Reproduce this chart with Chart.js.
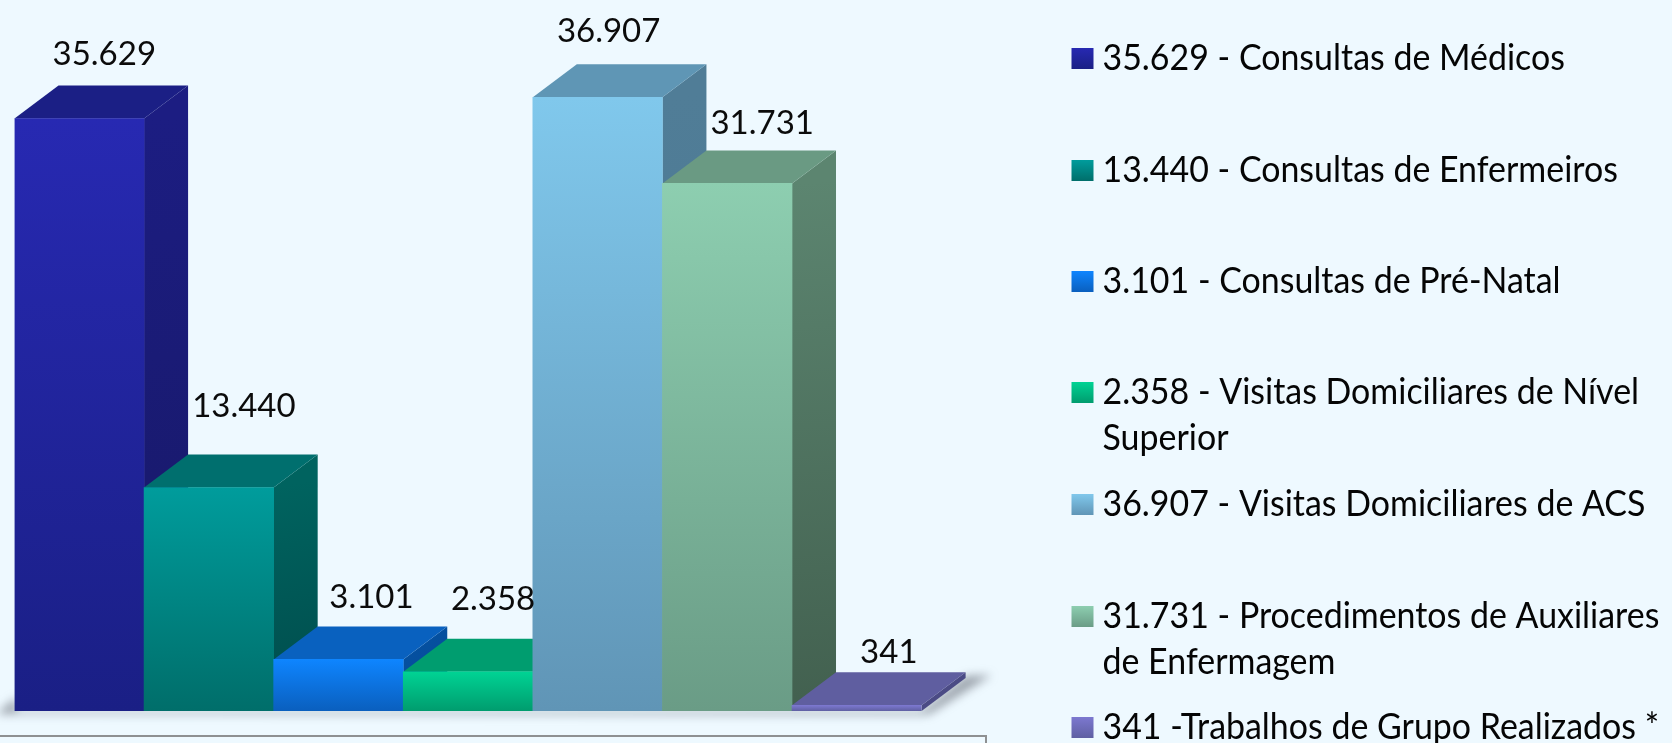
<!DOCTYPE html>
<html lang="pt">
<head>
<meta charset="utf-8">
<title>Produção</title>
<script src="https://cdn.jsdelivr.net/npm/chart.js@4/dist/chart.umd.min.js"></script>
<style>
html,body{margin:0;padding:0;background:#EEF9FF;overflow:hidden}
canvas{display:block}
</style>
</head>
<body>
<canvas id="c" width="1672" height="743"></canvas>
<script>
const categories = ["Consultas de Médicos","Consultas de Enfermeiros","Consultas de Pré-Natal","Visitas Domiciliares de Nível Superior","Visitas Domiciliares de ACS","Procedimentos de Auxiliares de Enfermagem","Trabalhos de Grupo Realizados"];
const values = [35629,13440,3101,2358,36907,31731,341];
const valueLabels = ["35.629","13.440","3.101","2.358","36.907","31.731","341"];
const legendLines = [
  ["35.629 - Consultas de Médicos"],
  ["13.440 - Consultas de Enfermeiros"],
  ["3.101 - Consultas de Pré-Natal"],
  ["2.358 - Visitas Domiciliares de Nível","Superior"],
  ["36.907 - Visitas Domiciliares de ACS"],
  ["31.731 - Procedimentos de Auxiliares","de Enfermagem"],
  ["341 -Trabalhos de Grupo Realizados *"]
];
const frontTop = ["#2729B2","#009C9C","#0E85FF","#00D394","#80C8EC","#8DCEB0","#7C78D0"];
const frontBottom = ["#1A1F85","#006E6A","#0A5FBE","#009C6E","#6095B6","#6A9C86","#5F5FA2"];
const topFace = ["#1B1F85","#006F6E","#0961BF","#009D6F","#5F96B5","#6A9A83","#5F5EA0"];
const sideTop = ["#1C1D82","#00635F","#0550A0","#007E5A","#507D97","#5C8570","#4B4B85"];
const sideBottom = ["#171864","#004C4C","#054A94","#007E5A","#4A7590","#42604F","#4B4B85"];
const labelShiftX = [25,35,33,25,11,35,32];
const labelShiftY = [-31,-48,-29,-39,-33,-27,-20];
const legendBaselines = [[70],[182],[293],[404,450],[516],[628,674],[739]];

const DX = 44, DY = 33;
const FONT = '33px Lato, Carlito, sans-serif';
const LEGEND_FONT = '37px Lato, Carlito, sans-serif';
const LEGEND_STRETCH = 0.917;

const faces = {
  id:'faces',
  beforeDatasetsDraw(chart){
    const g = chart.ctx, bars = chart.getDatasetMeta(0).data;
    const first = bars[0], last = bars[bars.length-1];
    const base = first.base, L = first.x-first.width/2, R = last.x+last.width/2;
    // floor shadow
    g.save();
    g.filter = 'blur(5px)';
    g.fillStyle = 'rgba(90,95,105,0.55)';
    g.beginPath();
    g.moveTo(L-18,base+3);
    g.lineTo(L+2,base-14);
    g.lineTo(L+2,base);
    g.lineTo(R,base);
    g.lineTo(R+DX,base-DY-2);
    g.lineTo(R+DX+26,base-DY-3);
    g.lineTo(R+8,base+3);
    g.lineTo(R,base+4);
    g.closePath();
    g.fill();
    g.restore();
    // top and side faces, left to right
    bars.forEach((b,i)=>{
      const l=b.x-b.width/2, r=b.x+b.width/2, t=b.y, bt=b.base;
      const sg=g.createLinearGradient(r,t,r+DX,bt);
      sg.addColorStop(0,sideTop[i]); sg.addColorStop(1,sideBottom[i]);
      g.fillStyle=sg;
      g.beginPath();
      g.moveTo(r,t);g.lineTo(r+DX,t-DY);g.lineTo(r+DX,bt-DY);g.lineTo(r,bt);g.closePath();g.fill();
      g.fillStyle=topFace[i];
      g.beginPath();
      g.moveTo(l,t);g.lineTo(l+DX,t-DY);g.lineTo(r+DX,t-DY);g.lineTo(r,t);g.closePath();g.fill();
    });
  },
  afterDatasetsDraw(chart){
    const g = chart.ctx, bars = chart.getDatasetMeta(0).data;
    g.save();
    g.fillStyle='#0b0b0b';
    g.font=FONT;
    g.textAlign='center';
    g.textBaseline='middle';
    bars.forEach((b,i)=>{
      g.fillText(valueLabels[i], b.x+labelShiftX[i], b.y-DY+labelShiftY[i]);
    });
    g.restore();
  }
};

const sideBlock = {
  id:'sideBlock',
  afterDraw(chart){
    const g = chart.ctx;
    g.save();
    // lower box outline
    g.strokeStyle='#8E9092';
    g.lineWidth=2;
    g.beginPath();
    g.moveTo(0,736);g.lineTo(986,736);g.lineTo(986,743);
    g.stroke();
    // legend
    g.font=LEGEND_FONT;
    g.textAlign='left';
    g.textBaseline='alphabetic';
    legendLines.forEach((lines,i)=>{
      const bl=legendBaselines[i][0]-1;
      const sg=g.createLinearGradient(0,bl-21,0,bl);
      sg.addColorStop(0,frontTop[i]);sg.addColorStop(1,frontBottom[i]);
      g.fillStyle=sg;
      g.fillRect(1071.5,bl-21,22,21);
      g.fillStyle='#050505';
      lines.forEach((t,k)=>{
        g.save();
        g.translate(1102.5,legendBaselines[i][k]);
        g.scale(LEGEND_STRETCH,1);
        g.fillText(t,0,0);
        g.restore();
      });
    });
    g.restore();
  }
};

new Chart(document.getElementById('c'),{
  type:'bar',
  data:{
    labels:categories,
    datasets:[{
      data:values,
      barPercentage:1,
      categoryPercentage:1,
      borderWidth:0,
      backgroundColor(ctx){
        const ch=ctx.chart;
        if(!ch.chartArea) return frontTop[ctx.dataIndex||0];
        const i=ctx.dataIndex, y=ch.scales.y;
        const gr=ch.ctx.createLinearGradient(0,y.getPixelForValue(values[i]),0,y.getPixelForValue(0));
        gr.addColorStop(0,frontTop[i]);gr.addColorStop(1,frontBottom[i]);
        return gr;
      }
    }]
  },
  options:{
    responsive:false,
    animation:false,
    layout:{padding:{left:14.5,right:750.4,top:11,bottom:32}},
    plugins:{legend:{display:false},tooltip:{enabled:false},title:{display:false}},
    scales:{
      x:{display:false},
      y:{display:false,min:0,max:42100}
    }
  },
  plugins:[faces,sideBlock]
});
</script>
</body>
</html>
